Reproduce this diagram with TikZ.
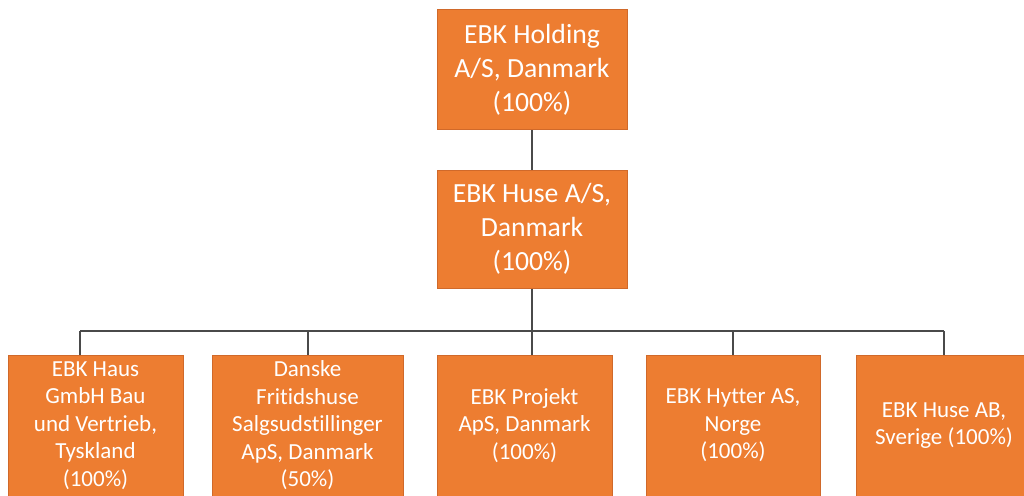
\documentclass[tikz,border=0pt]{standalone}
\usepackage{fontspec}
\setmainfont{Carlito}[Ligatures={NoCommon}]
\definecolor{boxfill}{HTML}{ED7D31}
\definecolor{boxline}{HTML}{D0692A}
\definecolor{linkcol}{HTML}{4A4A4A}
\begin{document}
\begin{tikzpicture}[x=1pt,y=-1pt,
  orgbox/.style={rectangle, fill=boxfill, draw=boxline, line width=1pt, text=white, align=center, inner sep=0pt},
  bigtext/.style={font=\fontsize{27.7}{34}\selectfont},
  smalltext/.style={font=\fontsize{23}{27.5}\selectfont},
  link/.style={draw=linkcol, line width=2pt}]
\useasboundingbox (0,0) rectangle (1024,495);
\clip (0,0) rectangle (1024,495);
\fill[white] (0,0) rectangle (1024,495);
\node[orgbox, bigtext, minimum width=190pt, minimum height=120pt] (top) at (532,69.5) {EBK Holding\\A/S, Danmark\\(100\%)};
\node[orgbox, bigtext, minimum width=190pt, minimum height=118pt] (mid) at (532,229) {EBK Huse A/S,\\Danmark\\(100\%)};
\node[orgbox, smalltext, minimum width=175pt, minimum height=141pt] (b1) at (95.5,425.5) {EBK Haus\\GmbH Bau\\und Vertrieb,\\Tyskland\\(100\%)};
\node[orgbox, smalltext, minimum width=191pt, minimum height=141pt] (b2) at (307.5,425.5) {Danske\\Fritidshuse\\Salgsudstillinger\\ApS, Danmark\\(50\%)};
\node[orgbox, smalltext, minimum width=175pt, minimum height=141pt] (b3) at (524.5,425.5) {EBK Projekt\\ApS, Danmark\\(100\%)};
\node[orgbox, smalltext, minimum width=174pt, minimum height=141pt] (b4) at (733,425.5) {EBK Hytter AS,\\Norge\\(100\%)};
\node[orgbox, smalltext, minimum width=176pt, minimum height=141pt] (b5) at (944,425.5) {EBK Huse AB,\\Sverige (100\%)};
\coordinate (barL) at (80,331);
\coordinate (barR) at (944,331);
\coordinate (b1top) at (80,355);
\coordinate (b3top) at (532,355);
\draw[link] (top.south) -- (mid.north);
\draw[link] (mid.south) -- (b3top);
\draw[link] (barL) -- (barR);
\draw[link] (barL) -- (b1top);
\draw[link] (b2.north) -- (b2.north |- barL);
\draw[link] (b4.north) -- (b4.north |- barL);
\draw[link] (b5.north) -- (b5.north |- barL);
\end{tikzpicture}
\end{document}
